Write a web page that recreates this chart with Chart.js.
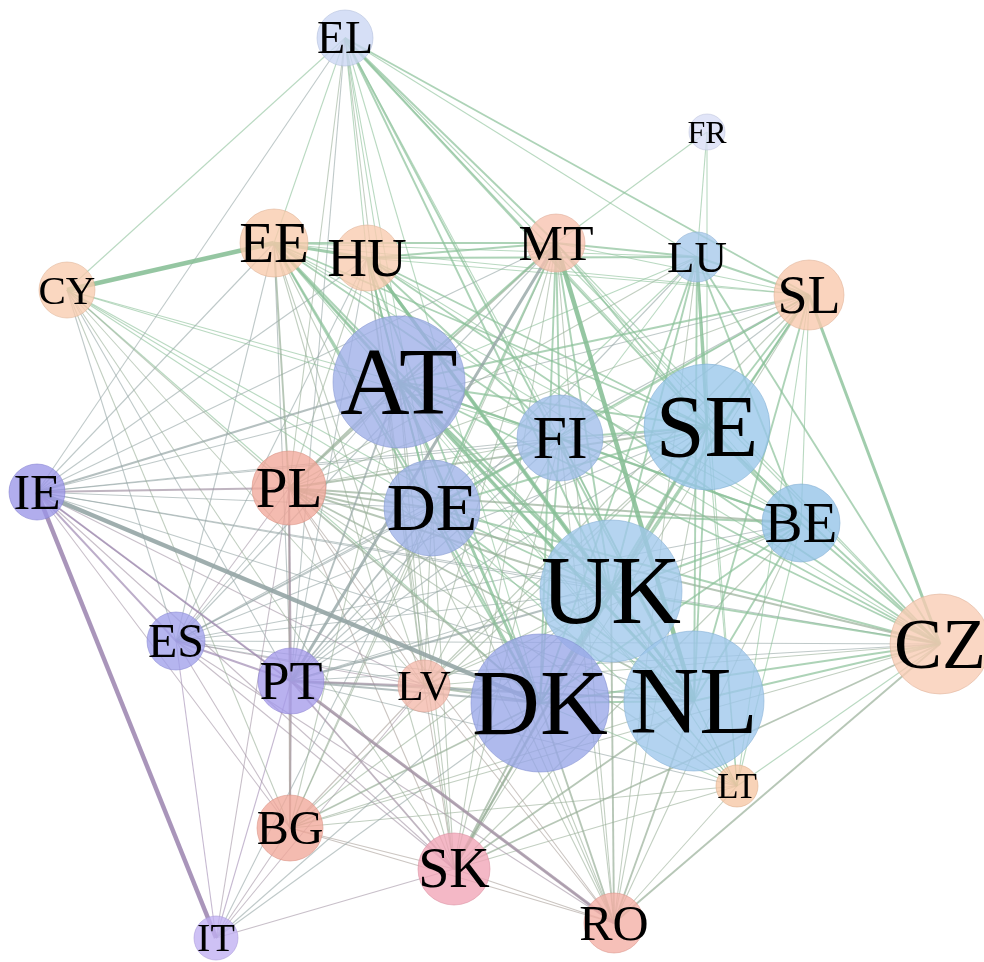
<!DOCTYPE html>
<html>
<head>
<meta charset="utf-8">
<script src="https://cdn.jsdelivr.net/npm/chart.js@4.4.1/dist/chart.umd.min.js"></script>
<style>
  html, body { margin: 0; padding: 0; background: #ffffff; }
  #wrap { width: 984px; height: 962px; position: relative; }
  .fontprobe { position: absolute; left: -9999px; top: 0; font-family: "Liberation Serif", "Times New Roman", Times, serif; font-size: 20px; }
</style>
</head>
<body>
<span class="fontprobe">EL FR AT UK</span>
<div id="wrap"><canvas id="net"></canvas></div>
<script>
// Countries in the network
const nodeNames = ['EL','FR','EE','HU','MT','LU','SL','CY','AT','FI','SE','IE','PL','DE','BE','UK','ES','CZ','PT','LV','DK','NL','LT','BG','SK','RO','IT'];
// Layout coordinates of each country
const nodeX = [345,707,274,367,556,697,809,67,399,560,707,37,289,432,801,611,176,940,291,424,540,694,737,290,454,614,216];
const nodeY = [38,132,243,258,243,257,295,290,382,438,427,492,488,508,523,591,641,644,681,686,703,701,786,828,869,923,938];
// Node weight (drawn as bubble radius)
const nodeSize = [28,18,34,33,29,25,35,28,66,43,63,28,37,48,39,71,29,50,33,26,69,70,21,33,36,30,22];

// Links: [from, to, strength]
const edges = [
  ['EL','CY',1],['EL','IE',1],['EL','EE',1],['EL','PL',1],['EL','PT',1],['EL','HU',1],['EL','AT',1],['EL','DE',1],['EL','FI',1],['EL','MT',2],['EL','UK',2],['EL','NL',2],['EL','SE',2],['EL','SL',2],['EL','LU',1],['EL','DK',1],['EL','BE',1],['EL','CZ',1],['EL','LV',1],
  ['FR','MT',1],['FR','LU',1],['FR','SE',1],
  ['CY','EE',4],['CY','PL',1],['CY','AT',1],['CY','DE',1],['CY','FI',1],['CY','ES',1],['CY','PT',1],['CY','LV',1],['CY','UK',1],['CY','DK',1],['CY','NL',1],['CY','SK',1],['CY','BG',1],
  ['EE','HU',3],['EE','MT',2],['EE','LU',1],['EE','AT',2],['EE','FI',2],['EE','SE',2],['EE','DE',2],['EE','UK',2],['EE','DK',2],['EE','NL',2],['EE','PL',2],['EE','PT',1],['EE','LV',1],['EE','ES',1],['EE','IE',1],['EE','BE',1],['EE','SL',1],['EE','CZ',1],['EE','LT',1],['EE','SK',1],['EE','RO',1],
  ['HU','MT',2],['HU','LU',2],['HU','AT',2],['HU','FI',2],['HU','SE',2],['HU','DE',2],['HU','UK',3],['HU','NL',3],['HU','DK',2],['HU','SL',1],['HU','BE',1],['HU','CZ',2],['HU','PL',1],['HU','LV',1],['HU','PT',1],['HU','SK',1],['HU','ES',1],['HU','IE',1],
  ['MT','LU',2],['MT','SL',1],['MT','AT',2],['MT','FI',2],['MT','SE',2],['MT','DE',2],['MT','UK',2],['MT','NL',4],['MT','DK',2],['MT','PL',2],['MT','PT',3],['MT','LV',1],['MT','BE',1],['MT','CZ',1],['MT','ES',1],['MT','SK',1],['MT','RO',1],['MT','BG',1],['MT','IE',1],
  ['LU','SL',2],['LU','SE',3],['LU','FI',1],['LU','UK',2],['LU','NL',2],['LU','DK',2],['LU','BE',2],['LU','CZ',2],['LU','DE',1],['LU','AT',1],['LU','PL',1],['LU','PT',1],['LU','LT',1],['LU','RO',1],
  ['SL','SE',2],['SL','FI',1],['SL','UK',2],['SL','NL',2],['SL','DK',2],['SL','BE',1],['SL','CZ',3],['SL','AT',2],['SL','DE',2],['SL','LT',1],['SL','PL',1],['SL','PT',1],['SL','IE',1],['SL','ES',1],['SL','LV',1],['SL','SK',1],
  ['AT','FI',2],['AT','SE',2],['AT','DE',2],['AT','UK',3],['AT','NL',3],['AT','DK',3],['AT','BE',2],['AT','CZ',2],['AT','PL',2],['AT','PT',2],['AT','IE',2],['AT','LV',1],['AT','ES',1],['AT','SK',1],['AT','BG',1],['AT','RO',1],['AT','LT',1],
  ['FI','SE',2],['FI','DE',2],['FI','UK',2],['FI','NL',2],['FI','DK',2],['FI','BE',2],['FI','CZ',2],['FI','PL',1],['FI','PT',1],['FI','LV',1],['FI','SK',1],['FI','RO',1],['FI','IE',1],['FI','ES',1],['FI','LT',1],
  ['SE','DE',2],['SE','UK',2],['SE','NL',2],['SE','DK',2],['SE','BE',2],['SE','CZ',2],['SE','PL',2],['SE','PT',1],['SE','LV',1],['SE','IE',1],['SE','ES',1],['SE','SK',2],['SE','RO',1],['SE','LT',1],['SE','BG',1],
  ['IE','PL',2],['IE','DE',1],['IE','ES',2],['IE','PT',2],['IE','DK',4],['IE','IT',4],['IE','LV',1],['IE','UK',1],['IE','NL',1],['IE','SK',1],['IE','BG',1],['IE','RO',1],['IE','CZ',1],
  ['PL','DE',2],['PL','UK',2],['PL','NL',2],['PL','DK',2],['PL','BE',2],['PL','CZ',2],['PL','ES',1],['PL','PT',2],['PL','LV',1],['PL','BG',2],['PL','SK',1],['PL','RO',1],['PL','IT',1],['PL','LT',1],
  ['DE','UK',2],['DE','NL',2],['DE','DK',2],['DE','BE',2],['DE','CZ',2],['DE','PT',2],['DE','ES',1],['DE','LV',1],['DE','BG',1],['DE','SK',1],['DE','RO',1],['DE','IT',1],['DE','LT',1],
  ['BE','UK',2],['BE','NL',2],['BE','DK',2],['BE','CZ',2],['BE','PT',1],['BE','ES',1],['BE','LV',1],['BE','SK',1],['BE','RO',1],['BE','LT',1],
  ['UK','NL',2],['UK','DK',2],['UK','CZ',2],['UK','PT',2],['UK','ES',1],['UK','LV',1],['UK','BG',1],['UK','SK',2],['UK','RO',2],['UK','LT',1],['UK','IT',1],
  ['ES','PT',2],['ES','LV',1],['ES','DK',1],['ES','NL',1],['ES','CZ',1],['ES','BG',1],['ES','SK',1],['ES','RO',1],['ES','IT',1],
  ['CZ','PT',1],['CZ','LV',1],['CZ','DK',2],['CZ','NL',2],['CZ','LT',1],['CZ','SK',2],['CZ','RO',2],['CZ','BG',1],
  ['PT','LV',2],['PT','DK',2],['PT','NL',2],['PT','BG',2],['PT','SK',2],['PT','RO',3],['PT','IT',1],['PT','LT',1],
  ['LV','DK',2],['LV','NL',1],['LV','BG',1],['LV','SK',1],['LV','RO',1],['LV','IT',1],
  ['DK','NL',2],['DK','LT',1],['DK','BG',2],['DK','SK',2],['DK','RO',2],['DK','IT',1],
  ['NL','LT',1],['NL','BG',1],['NL','SK',2],['NL','RO',2],
  ['LT','SK',1],['LT','RO',1],['LT','BG',1],
  ['BG','SK',1],['BG','RO',1],['BG','IT',1],
  ['SK','RO',1],['SK','IT',1]
];

// ---- styling ----
const nodeFill = {
  EL:[202,214,244], FR:[216,222,246], EE:[248,202,172], HU:[248,202,174], MT:[247,194,174],
  LU:[165,200,235], SL:[248,200,172], CY:[248,204,174], AT:[158,174,232], FI:[160,190,234],
  SE:[152,198,234], IE:[155,150,232], PL:[241,168,154], DE:[158,178,232], BE:[148,195,232],
  UK:[160,200,236], ES:[160,160,234], CZ:[248,204,180], PT:[165,155,234], LV:[243,184,170],
  DK:[152,166,232], NL:[158,199,236], LT:[246,198,164], BG:[241,168,154], SK:[241,164,182],
  RO:[243,174,164], IT:[192,176,242]
};
const labelSize = {
  EL:46, FR:32, EE:57, HU:55, MT:50, LU:45, SL:54, CY:41, AT:96, FI:62, SE:88, IE:50, PL:57,
  DE:68, BE:57, UK:97, ES:48, CZ:72, PT:54, LV:43, DK:94, NL:96, LT:35, BG:48, SK:56, RO:50, IT:40
};
const labelFont = '"Liberation Serif", "Times New Roman", Times, serif';
const tintOf = name => {
  if (['IE','ES','PT','IT'].includes(name)) return [160,138,178];
  if (['PL','LV','BG','SK','RO'].includes(name)) return [168,158,152];
  return [138,192,152];
};
const edgeWidth = [0, 1.1, 1.9, 3.0, 4.5];

const idx = {};
nodeNames.forEach((n, i) => idx[n] = i);

const edgeSets = edges.map(([a, b, w]) => {
  const ta = tintOf(a), tb = tintOf(b);
  const c = ta.map((v, k) => Math.round((v + tb[k]) / 2));
  const alpha = 0.5 + 0.1 * w;
  return {
    type: 'scatter',
    data: [{x: nodeX[idx[a]], y: nodeY[idx[a]]}, {x: nodeX[idx[b]], y: nodeY[idx[b]]}],
    showLine: true,
    borderColor: `rgba(${c[0]},${c[1]},${c[2]},${alpha})`,
    borderWidth: edgeWidth[w],
    pointRadius: 0,
    pointHoverRadius: 0,
    fill: false,
    clip: false,
    order: 10 - w
  };
});

const nodeSet = {
  type: 'bubble',
  data: nodeNames.map((n, i) => ({x: nodeX[i], y: nodeY[i], r: nodeSize[i]})),
  backgroundColor: nodeNames.map(n => `rgba(${nodeFill[n].join(',')},0.78)`),
  borderColor: nodeNames.map(n => `rgba(${nodeFill[n].map(v => Math.max(0, v - 25)).join(',')},0.55)`),
  borderWidth: 1,
  hoverRadius: 0,
  clip: false,
  order: 0
};

// Country codes written on top of each bubble
const labelPlugin = {
  id: 'nodeLabels',
  afterDatasetsDraw(chart) {
    const ctx = chart.ctx;
    const xs = chart.scales.x, ys = chart.scales.y;
    ctx.save();
    ctx.fillStyle = '#000000';
    ctx.textAlign = 'center';
    ctx.textBaseline = 'alphabetic';
    nodeNames.forEach((n, i) => {
      const s = labelSize[n];
      ctx.font = `${s}px ${labelFont}`;
      const px = xs.getPixelForValue(nodeX[i]);
      const py = ys.getPixelForValue(nodeY[i]);
      ctx.fillText(n, px, py + s * 0.33);
    });
    ctx.restore();
  }
};

function draw() {
  new Chart(document.getElementById('net'), {
    type: 'scatter',
    data: { datasets: [nodeSet, ...edgeSets] },
    options: {
      responsive: true,
      maintainAspectRatio: false,
      animation: false,
      events: [],
      layout: { padding: 0, autoPadding: false },
      plugins: { legend: { display: false }, tooltip: { enabled: false } },
      scales: {
        x: { type: 'linear', min: 0, max: 984, display: false },
        y: { type: 'linear', min: 0, max: 962, reverse: true, display: false }
      }
    },
    plugins: [labelPlugin]
  });
}

if (document.fonts && document.fonts.load) {
  document.fonts.load(`40px ${labelFont}`).then(draw, draw);
} else {
  draw();
}
</script>
</body>
</html>
